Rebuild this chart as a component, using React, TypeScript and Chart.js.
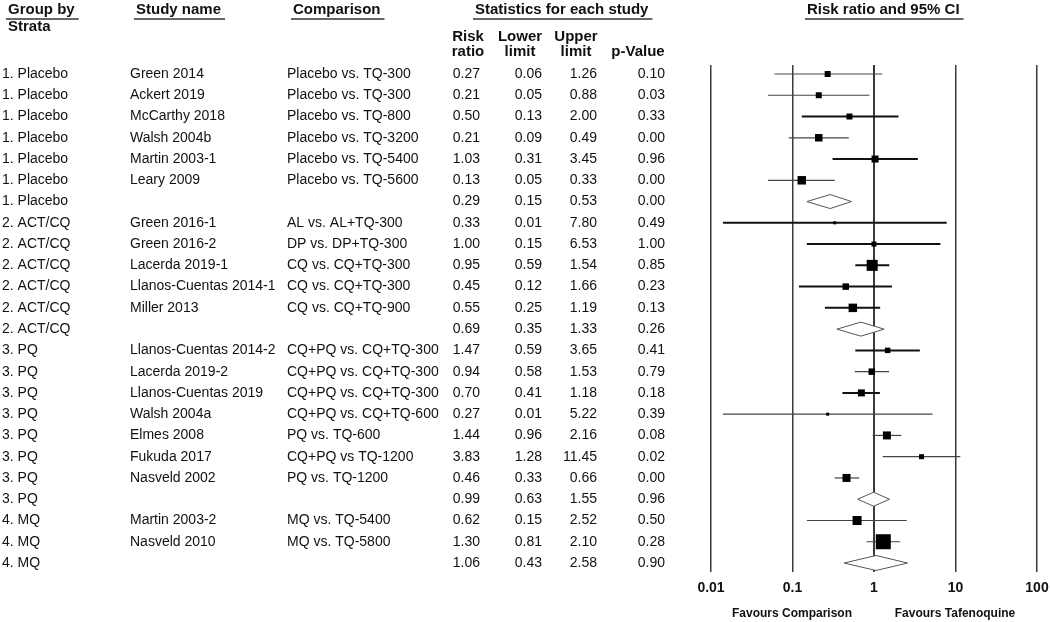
import React, { useEffect, useRef } from "react";
import { Chart, registerables } from "chart.js";

Chart.register(...registerables);

// ---------- data ----------
const groups = [
  "1. Placebo", "1. Placebo", "1. Placebo", "1. Placebo", "1. Placebo", "1. Placebo", "1. Placebo",
  "2. ACT/CQ", "2. ACT/CQ", "2. ACT/CQ", "2. ACT/CQ", "2. ACT/CQ", "2. ACT/CQ",
  "3. PQ", "3. PQ", "3. PQ", "3. PQ", "3. PQ", "3. PQ", "3. PQ", "3. PQ",
  "4. MQ", "4. MQ", "4. MQ",
];
const studies = [
  "Green 2014", "Ackert 2019", "McCarthy 2018", "Walsh 2004b", "Martin 2003-1", "Leary 2009", "",
  "Green 2016-1", "Green 2016-2", "Lacerda 2019-1", "Llanos-Cuentas 2014-1", "Miller 2013", "",
  "Llanos-Cuentas 2014-2", "Lacerda 2019-2", "Llanos-Cuentas 2019", "Walsh 2004a", "Elmes 2008", "Fukuda 2017", "Nasveld 2002", "",
  "Martin 2003-2", "Nasveld 2010", "",
];
const comparisons = [
  "Placebo vs. TQ-300", "Placebo vs. TQ-300", "Placebo vs. TQ-800", "Placebo vs. TQ-3200", "Placebo vs. TQ-5400", "Placebo vs. TQ-5600", "",
  "AL vs. AL+TQ-300", "DP vs. DP+TQ-300", "CQ vs. CQ+TQ-300", "CQ vs. CQ+TQ-300", "CQ vs. CQ+TQ-900", "",
  "CQ+PQ vs. CQ+TQ-300", "CQ+PQ vs. CQ+TQ-300", "CQ+PQ vs. CQ+TQ-300", "CQ+PQ vs. CQ+TQ-600", "PQ vs. TQ-600", "CQ+PQ vs TQ-1200", "PQ vs. TQ-1200", "",
  "MQ vs. TQ-5400", "MQ vs. TQ-5800", "",
];
const riskRatios = [
  0.27, 0.21, 0.5, 0.21, 1.03, 0.13, 0.29,
  0.33, 1.0, 0.95, 0.45, 0.55, 0.69,
  1.47, 0.94, 0.7, 0.27, 1.44, 3.83, 0.46, 0.99,
  0.62, 1.3, 1.06,
];
const lowerLimits = [
  0.06, 0.05, 0.13, 0.09, 0.31, 0.05, 0.15,
  0.014, 0.15, 0.59, 0.12, 0.25, 0.35,
  0.59, 0.58, 0.41, 0.014, 0.96, 1.28, 0.33, 0.63,
  0.15, 0.81, 0.43,
];
const upperLimits = [
  1.26, 0.88, 2.0, 0.49, 3.45, 0.33, 0.53,
  7.8, 6.53, 1.54, 1.66, 1.19, 1.33,
  3.65, 1.53, 1.18, 5.22, 2.16, 11.45, 0.66, 1.55,
  2.52, 2.1, 2.58,
];
const pValues = [
  0.1, 0.03, 0.33, 0.0, 0.96, 0.0, 0.0,
  0.49, 1.0, 0.85, 0.23, 0.13, 0.26,
  0.41, 0.79, 0.18, 0.39, 0.08, 0.02, 0.0, 0.96,
  0.5, 0.28, 0.9,
];
// relative study weights (null = subgroup summary row)
const weights: (number | null)[] = [
  3.6, 3.6, 3.6, 5.6, 4.9, 7.2, null,
  0.9, 2.5, 12.1, 4.2, 7.2, null,
  3.0, 4.2, 4.9, 0.9, 6.4, 2.5, 6.4, null,
  8.1, 22.5, null,
];
const tickValues = [0.01, 0.1, 1, 10, 100];
const tickLabels = ["0.01", "0.1", "1", "10", "100"];

// ---------- styles ----------
const FONT = '"Liberation Sans", Arial, Helvetica, sans-serif';
const thickRows = new Set([2, 4, 7, 8, 9, 10, 11, 13, 15]);

const forestPlugin = {
  id: "forest",
  beforeDatasetsDraw(chart: any) {
    const ctx = chart.ctx;
    const xs = chart.scales.x;
    const ys = chart.scales.y;
    ctx.save();
    riskRatios.forEach((rr, i) => {
      const y = ys.getPixelForValue(i);
      const xl = xs.getPixelForValue(lowerLimits[i]);
      const xh = xs.getPixelForValue(upperLimits[i]);
      const xc = xs.getPixelForValue(rr);
      if (weights[i] === null) {
        const h = i === riskRatios.length - 1 ? 7.5 : 7;
        ctx.beginPath();
        ctx.moveTo(xl, y);
        ctx.lineTo(xc, y - h);
        ctx.lineTo(xh, y);
        ctx.lineTo(xc, y + h);
        ctx.closePath();
        ctx.fillStyle = "#ffffff";
        ctx.fill();
        ctx.strokeStyle = "#555555";
        ctx.lineWidth = 1;
        ctx.stroke();
      } else {
        ctx.beginPath();
        ctx.moveTo(xl, y);
        ctx.lineTo(xh, y);
        ctx.strokeStyle = thickRows.has(i) ? "#111111" : "#444444";
        ctx.lineWidth = thickRows.has(i) ? 2 : 1.2;
        ctx.stroke();
      }
    });
    ctx.restore();
  },
  afterDraw(chart: any) {
    const ctx = chart.ctx;
    const ys = chart.scales.y;
    ctx.save();
    ctx.textBaseline = "middle";
    ctx.fillStyle = "#111111";

    // headers
    ctx.font = `bold 15px ${FONT}`;
    const underlined = (t: string, x: number) => {
      ctx.textAlign = "left";
      ctx.fillText(t, x, 10);
      const w = ctx.measureText(t).width;
      ctx.beginPath();
      ctx.moveTo(x - 2, 19);
      ctx.lineTo(x + w + 4, 19);
      ctx.strokeStyle = "#333333";
      ctx.lineWidth = 1.5;
      ctx.stroke();
    };
    underlined("Group by", 8);
    underlined("Study name", 136);
    underlined("Comparison", 293);
    underlined("Statistics for each study", 475);
    underlined("Risk ratio and 95% CI", 807);
    ctx.textAlign = "left";
    ctx.fillText("Strata", 8, 27);
    ctx.textAlign = "center";
    ctx.fillText("Risk", 468, 37);
    ctx.fillText("ratio", 468, 52);
    ctx.fillText("Lower", 520, 37);
    ctx.fillText("limit", 520, 52);
    ctx.fillText("Upper", 576, 37);
    ctx.fillText("limit", 576, 52);
    ctx.fillText("p-Value", 638, 52);

    // rows
    ctx.font = `14px ${FONT}`;
    riskRatios.forEach((rr, i) => {
      const y = ys.getPixelForValue(i);
      ctx.textAlign = "left";
      ctx.fillText(groups[i], 2, y);
      ctx.fillText(studies[i], 130, y);
      ctx.fillText(comparisons[i], 287, y);
      ctx.textAlign = "right";
      ctx.fillText(rr.toFixed(2), 480, y);
      ctx.fillText(lowerLimits[i].toFixed(2), 542, y);
      ctx.fillText(upperLimits[i].toFixed(2), 597, y);
      ctx.fillText(pValues[i].toFixed(2), 665, y);
    });

    // favours labels
    ctx.font = `bold 12px ${FONT}`;
    ctx.textAlign = "center";
    ctx.fillText("Favours Comparison", 792, 614);
    ctx.fillText("Favours Tafenoquine", 955, 614);
    ctx.restore();
  },
};

export default function App() {
  const ref = useRef<HTMLCanvasElement | null>(null);
  useEffect(() => {
    if (!ref.current) return;
    const points: any[] = [];
    const radii: number[] = [];
    riskRatios.forEach((rr, i) => {
      const w = weights[i];
      if (w !== null) {
        points.push({ x: rr, y: i });
        radii.push(Math.sqrt(w * 10) / Math.SQRT2);
      }
    });
    const chart = new Chart(ref.current, {
      type: "scatter",
      data: {
        datasets: [
          {
            data: points,
            pointStyle: "rect",
            pointRadius: radii,
            pointHoverRadius: radii,
            backgroundColor: "#000000",
            borderWidth: 0,
          },
        ],
      },
      options: {
        animation: false,
        responsive: false,
        devicePixelRatio: 1,
        events: [],
        layout: { padding: { left: 711, right: 13, top: 65, bottom: 0 } },
        plugins: { legend: { display: false }, tooltip: { enabled: false } },
        scales: {
          x: {
            type: "logarithmic",
            min: 0.01,
            max: 100,
            afterBuildTicks: (s: any) => {
              s.ticks = tickValues.map((v) => ({ value: v }));
            },
            afterFit: (s: any) => {
              s.height = 50;
              s.paddingLeft = 0;
              s.paddingRight = 0;
            },
            border: { display: false },
            grid: {
              color: "#3a3a3a",
              lineWidth: (c: any) => (c.tick && c.tick.value === 1 ? 2 : 1.5),
              drawTicks: false,
            },
            ticks: {
              padding: 8,
              color: "#111111",
              font: { family: FONT, size: 14, weight: "bold" },
              autoSkip: false,
              maxRotation: 0,
              callback: (_v: any, i: number) => tickLabels[i],
            },
          },
          y: {
            type: "linear",
            display: false,
            min: -0.423,
            max: 23.423,
            reverse: true,
          },
        },
      },
      plugins: [forestPlugin],
    } as any);
    return () => chart.destroy();
  }, []);
  return (
    <div style={{ position: "absolute", left: 0, top: 0, width: 1050, height: 622, background: "#fff" }}>
      <canvas ref={ref} width={1050} height={622} />
    </div>
  );
}
